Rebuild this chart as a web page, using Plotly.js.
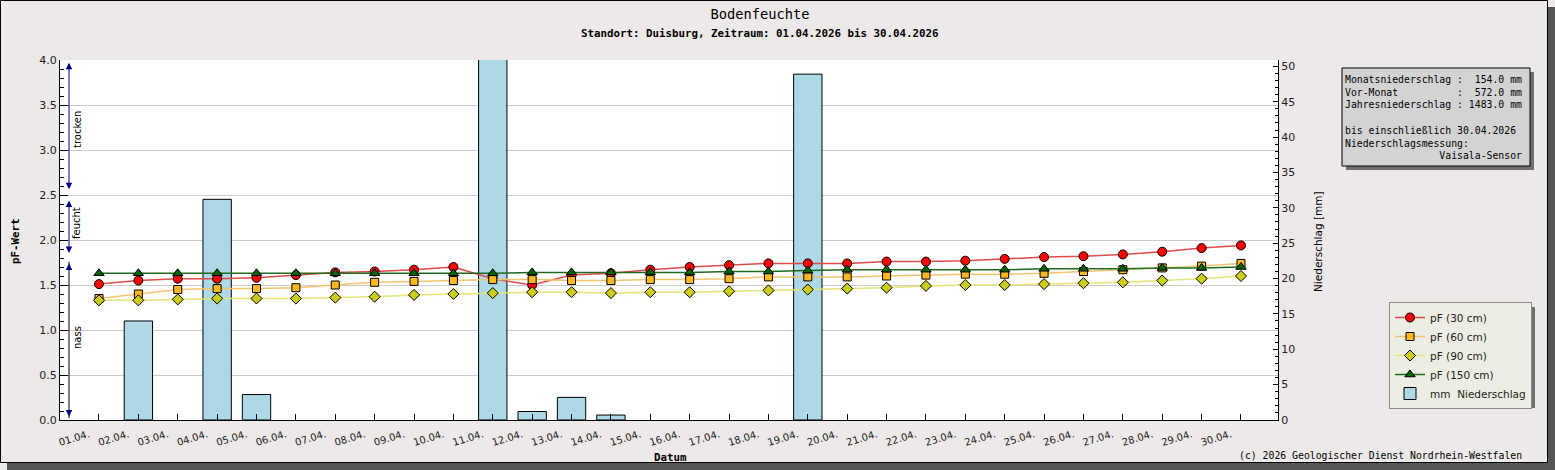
<!DOCTYPE html>
<html>
<head>
<meta charset="utf-8">
<script src="https://cdn.plot.ly/plotly-3.0.1.min.js"></script>
<style>
  html, body { margin: 0; padding: 0; background: #ece9e8; }
  #chart { width: 1555px; height: 470px; }
</style>
</head>
<body>
<div id="chart"></div>
<script>
// Bodenfeuchte Duisburg, April 2026
const dates = ["01.04.", "02.04.", "03.04.", "04.04.", "05.04.", "06.04.", "07.04.", "08.04.", "09.04.", "10.04.",
    "11.04.", "12.04.", "13.04.", "14.04.", "15.04.", "16.04.", "17.04.", "18.04.", "19.04.", "20.04.",
    "21.04.", "22.04.", "23.04.", "24.04.", "25.04.", "26.04.", "27.04.", "28.04.", "29.04.", "30.04."]

const pf30 = [1.51, 1.55, 1.57, 1.57, 1.58, 1.61, 1.64, 1.65, 1.67, 1.70,
    1.57, 1.50, 1.61, 1.63, 1.67, 1.70, 1.72, 1.74, 1.74, 1.74,
    1.76, 1.76, 1.77, 1.79, 1.81, 1.82, 1.84, 1.87, 1.91, 1.94]
const pf60 = [1.35, 1.40, 1.45, 1.46, 1.46, 1.47, 1.50, 1.53, 1.54, 1.55,
    1.56, 1.56, 1.55, 1.55, 1.56, 1.56, 1.57, 1.59, 1.59, 1.59,
    1.60, 1.61, 1.62, 1.62, 1.63, 1.65, 1.67, 1.69, 1.71, 1.74]
const pf90 = [1.33, 1.33, 1.34, 1.35, 1.35, 1.35, 1.36, 1.37, 1.39, 1.40,
    1.41, 1.42, 1.42, 1.41, 1.42, 1.42, 1.43, 1.44, 1.45, 1.46,
    1.47, 1.49, 1.50, 1.50, 1.51, 1.52, 1.53, 1.55, 1.57, 1.60]
const pf150 = [1.63, 1.63, 1.63, 1.63, 1.63, 1.63, 1.63, 1.63, 1.63, 1.63,
    1.63, 1.64, 1.64, 1.64, 1.64, 1.64, 1.65, 1.65, 1.66, 1.67,
    1.67, 1.67, 1.67, 1.67, 1.68, 1.68, 1.68, 1.69, 1.69, 1.70]
const rain = [0, 14.0, 0, 31.2, 3.6, 0, 0, 0, 0, 0,
    51.2, 1.2, 3.2, 0.7, 0, 0, 0, 0, 48.9, 0,
    0, 0, 0, 0, 0, 0, 0, 0, 0, 0]

const infoLines = [
    "Monatsniederschlag :  154.0 mm",
    "Vor-Monat          :  572.0 mm",
    "Jahresniederschlag : 1483.0 mm",
    " ",
    "bis einschließlich 30.04.2026",
    "Niederschlagsmessung:",
    "                Vaisala-Sensor",
]

// pixel -> paper helpers (plot area 60..1278 x 60..420)
const px = x => (x - 60) / 1218
const py = y => (420 - y) / 360

const mono = "DejaVu Sans Mono, monospace"
const sans = "DejaVu Sans, sans-serif"
const navy = "#00008b"

const lineTrace = (name, y, color, lineColor, symbol, size) => ({
    x: dates, y: y, name: name, yaxis: "y2",
    type: "scatter", mode: "lines+markers",
    line: { color: lineColor, width: 1.5 },
    marker: { symbol: symbol, size: size, color: color, line: { color: "#000", width: 1 } },
})

const data = [
    lineTrace("pF (30 cm)", pf30, "#ff0000", "#dd4a4a", "circle", 9),
    lineTrace("pF (60 cm)", pf60, "#ffb81f", "#f3c46e", "square", 8),
    lineTrace("pF (90 cm)", pf90, "#cccc1a", "#e4e478", "diamond", 8.5),
    lineTrace("pF (150 cm)", pf150, "#006400", "#1f6a1f", "triangle-up", 9),
    {
        // dry days get no bar at all (no flat outline on the axis)
        x: dates, y: rain.map(v => v > 0 ? v : null), name: "mm\u00a0\u00a0Niederschlag", yaxis: "y",
        type: "bar", width: 0.72,
        marker: { color: "#add8e6", line: { color: "#000", width: 1 } },
    },
]

// arrows for trocken / feucht / nass
const arrow = (y, ay, side, color) => ({
    xref: "paper", yref: "y2", x: px(69), y: y, text: "", font: { size: 1 },
    showarrow: true, ax: 0, ay: ay, axref: "pixel", ayref: "pixel",
    arrowhead: 2, startarrowhead: 2, arrowside: side, arrowsize: 1.3, arrowwidth: 1,
    arrowcolor: color, standoff: 0, startstandoff: 0,
})
const label = (text, x, y, font, extra) => Object.assign({
    xref: "paper", yref: "paper", x: px(x), y: py(y), xanchor: "center", yanchor: "middle",
    text: text, showarrow: false, font: font,
}, extra || {})

const annotations = [
    arrow(3.97, 128, "end+start", navy),
    arrow(2.44, 54, "end+start", navy),
    arrow(1.74, 7, "end", navy),
    arrow(0.04, -7, "end", navy),
    label("trocken", 77, 130, { family: sans, size: 10, color: "#000" }, { textangle: -90 }),
    label("feucht", 77, 223, { family: sans, size: 10, color: "#000" }, { textangle: -90 }),
    label("nass", 77, 338, { family: sans, size: 10, color: "#000" }, { textangle: -90 }),
    label("<b>Standort: Duisburg, Zeitraum: 01.04.2026 bis 30.04.2026</b>", 760, 33,
        { family: mono, size: 10.8, color: "#000" }),
    label("<b>pF-Wert</b>", 15, 241, { family: mono, size: 10.8, color: "#000" }, { textangle: -90 }),
    label("Niederschlag [mm]", 1318, 242, { family: sans, size: 10.5, color: "#000" }, { textangle: -90 }),
    label("<b>Datum</b>", 670, 457, { family: mono, size: 10.8, color: "#000" }),
    label("(c) 2026 Geologischer Dienst Nordrhein-Westfalen", 1524, 455,
        { family: mono, size: 9.8, color: "#000" }, { xanchor: "right" }),
    label(infoLines.map(l => l.replace(/ /g, "\u00a0")).join("<br>"), 1343, 72,
        { family: mono, size: 9.8, color: "#000" }, { xanchor: "left", yanchor: "top", align: "left" }),
]

const rect = (x0, y0, x1, y1, fill, line) => ({
    type: "rect", xref: "paper", yref: "paper", layer: "above",
    x0: px(x0), x1: px(x1), y0: py(y1), y1: py(y0),
    fillcolor: fill, line: line ? { color: line, width: 1 } : { width: 0 },
})

const shapes = [
    // outer frame + shadow
    rect(1548, 7, 1555, 470, "#555555"),
    rect(7, 463, 1555, 470, "#555555"),
    rect(0.5, 0.5, 1547.5, 462.5, "rgba(0,0,0,0)", "#000"),
    // info box
    rect(1346, 72, 1534, 170, "#6f6f6f"),
    rect(1342, 68, 1530, 166, "#d3d3d3", "#000"),
    // legend shadow
    rect(1394, 307, 1535, 408, "#6f6f6f"),
    // nass line
    {
        type: "line", xref: "paper", yref: "y2", x0: px(69), x1: px(69), y0: 0.02, y1: 1.76,
        line: { color: "#000", width: 1 },
    },
]

const layout = {
    width: 1555,
    height: 470,
    margin: { l: 60, r: 277, t: 60, b: 50 },
    paper_bgcolor: "#ece9e8",
    plot_bgcolor: "#ffffff",
    font: { family: sans, size: 11, color: "#222" },
    title: {
        text: "Bodenfeuchte", xref: "container", yref: "container",
        x: 760 / 1555, y: 1 - 14 / 470, xanchor: "center", yanchor: "middle",
        font: { family: mono, size: 13.7, color: "#000" },
    },
    showlegend: true,
    legend: {
        x: px(1389), y: py(302), xanchor: "left", yanchor: "top",
        bgcolor: "#edeee3", bordercolor: "#8a8a8a", borderwidth: 1,
        font: { family: sans, size: 10.5, color: "#222" },
        itemwidth: 30, tracegroupgap: 0,
    },
    hovermode: false,
    xaxis: {
        type: "category", range: [-0.99, 29.94],
        showgrid: false, zeroline: false,
        showline: true, linecolor: "#000", linewidth: 1,
        ticks: "inside", ticklen: 6, tickcolor: "#000",
        tickangle: -17, ticklabelshift: -10, ticklabelstandoff: 4,
        tickfont: { family: sans, size: 10, color: "#222" },
    },
    yaxis: {
        side: "right", range: [0, 50.9], dtick: 5,
        showgrid: false, zeroline: false,
        showline: true, linecolor: "#000", linewidth: 1,
        ticks: "inside", ticklen: 5, tickcolor: "#000",
        minor: { dtick: 1, ticks: "inside", ticklen: 3, tickcolor: "#000", showgrid: false },
        tickfont: { family: sans, size: 11, color: "#222" },
    },
    yaxis2: {
        side: "left", overlaying: "y", range: [0, 4], dtick: 0.5, tickformat: ".1f",
        showgrid: true, gridcolor: "#cccccc", zeroline: false,
        showline: true, linecolor: "#000", linewidth: 1,
        ticks: "inside", ticklen: 8, tickcolor: "#000",
        minor: { dtick: 0.1, ticks: "inside", ticklen: 4, tickcolor: "#000", showgrid: false },
        tickfont: { family: sans, size: 11, color: "#222" },
    },
    annotations: annotations,
    shapes: shapes,
}

Plotly.newPlot("chart", data, layout, { displayModeBar: false, staticPlot: true })
</script>
</body>
</html>
